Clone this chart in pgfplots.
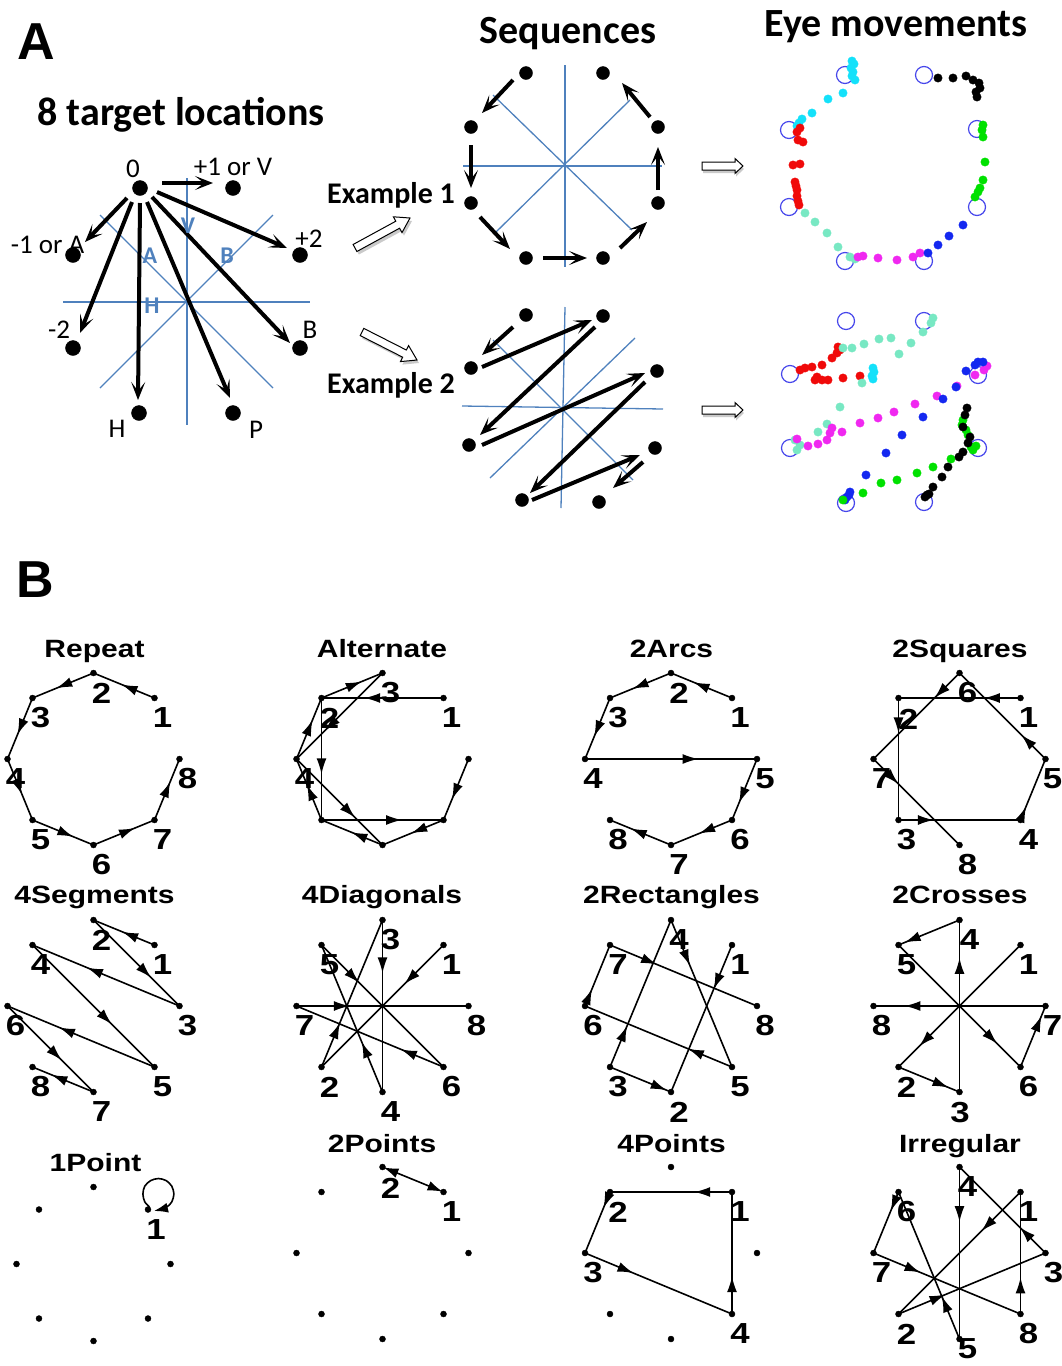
\documentclass[border=0pt]{standalone}
\usepackage{pgfplots}
\pgfplotsset{compat=1.18}
\usepackage{fontspec}
\setmainfont{Liberation Sans}
\newfontfamily\calfont{Carlito}
\newfontfamily\helb[FakeStretch=1.2]{Liberation Sans}
\usetikzlibrary{arrows.meta,decorations.markings}
\definecolor{lblue}{RGB}{79,129,189}
\definecolor{cblue}{RGB}{70,70,235}
\definecolor{ecyan}{RGB}{20,225,250}
\definecolor{ered}{RGB}{240,10,10}
\definecolor{eaqua}{RGB}{120,232,195}
\definecolor{emag}{RGB}{240,40,240}
\definecolor{eblue}{RGB}{20,40,240}
\definecolor{egreen}{RGB}{0,225,0}
\tikzset{seg/.style={postaction={decorate,decoration={markings,mark=at position #1 with {\arrow{Latex[length=16pt,width=10pt]}}}}}}
\pgfplotsset{
 edge/.style={black,line width=1.6pt,mark=none},
 tarrow/.style={black,line width=4pt,mark=none,-{Stealth[length=18pt,width=14pt,inset=9pt]}},
 bdot/.style={only marks,mark=*,mark size=3pt,black},
 bline/.style={lblue,line width=1.3pt,mark=none},
 edot/.style={only marks,color=#1,mark=*,mark size=4.2pt,mark options={draw=none,fill=#1}},
 hollow/.style={fill=white,draw=black,line width=1pt,mark=none},
 hshadow/.style={fill=black!35,draw=none,mark=none,opacity=0.6},
}
\newcommand\E[5]{\addplot[edge,seg=#5] coordinates {(#1,#2) (#3,#4)};}
\newcommand\digfont{\helb\bfseries\fontsize{29}{30}\selectfont}
\newcommand\lbl[3]{\node[font=\digfont,inner sep=0pt] at (axis cs:#1,#2) {#3};}
\newcommand\ttl[3]{\node[font=\helb\bfseries\fontsize{25}{30}\selectfont,anchor=base,inner sep=0pt] at (axis cs:#1,#2) {#3};}
\begin{document}
\begin{tikzpicture}
\useasboundingbox (0,0) rectangle (1062pt,1366pt);
\begin{axis}[at={(0,0)},anchor=south west,scale only axis,width=1062pt,height=1366pt,
 xmin=0,xmax=1062,ymin=0,ymax=1366,y dir=reverse,hide axis,clip=false]
% ---------------- Panel A left ----------------
\addplot[bline] coordinates {(187,178) (187,425)};
\addplot[bline] coordinates {(63,302) (310,302)};
\addplot[bline] coordinates {(100,215) (273,388)};
\addplot[bline] coordinates {(273,215) (100,388)};
\addplot[only marks,mark=*,mark size=7.5pt,black] coordinates {(140,188) (233,188) (300,255) (300,348) (233,413) (139,413) (73,348) (73,255)};
\addplot[tarrow] coordinates {(162,183) (213,183)};
\addplot[tarrow] coordinates {(127,198) (85,242)};
\addplot[tarrow] coordinates {(132,202) (80,333)};
\addplot[tarrow] coordinates {(140,203) (138,400)};
\addplot[tarrow] coordinates {(147,202) (230,398)};
\addplot[tarrow] coordinates {(152,197) (290,343)};
\addplot[tarrow] coordinates {(157,192) (287,248)};
\node[anchor=base,font=\bfseries\fontsize{52}{60}\selectfont,inner sep=0pt] at (axis cs:36,59) {A};
\node[anchor=base,font=\calfont\bfseries\fontsize{40}{48}\selectfont,inner sep=0pt] at (axis cs:181,125) {8 target locations};
\begin{scope}[every node/.style={anchor=base,font=\calfont\fontsize{27}{30}\selectfont,inner sep=0pt}]
\node at (axis cs:133,177) {0};
\node at (axis cs:233,175) {+1 or V};
\node at (axis cs:47.5,253) {-1 or A};
\node at (axis cs:309,247) {+2};
\node at (axis cs:59,338) {-2};
\node at (axis cs:310,338) {B};
\node at (axis cs:117,437) {H};
\node at (axis cs:256,438) {P};
\end{scope}
\begin{scope}[every node/.style={anchor=base,font=\calfont\bfseries\fontsize{24}{28}\selectfont,text=lblue,inner sep=0pt}]
\node at (axis cs:188,233) {V};
\node at (axis cs:150,263) {A};
\node at (axis cs:227,263) {B};
\node at (axis cs:152,313) {H};
\end{scope}
% ---------------- Panel A middle ----------------
\node[anchor=base,font=\calfont\bfseries\fontsize{40}{48}\selectfont,inner sep=0pt] at (axis cs:568,43) {Sequences};
\node[anchor=base,font=\calfont\bfseries\fontsize{30}{36}\selectfont,inner sep=0pt] at (axis cs:391,203) {Example 1};
\node[anchor=base,font=\calfont\bfseries\fontsize{30}{36}\selectfont,inner sep=0pt] at (axis cs:391,393) {Example 2};
\addplot[hshadow] coordinates {(355.1,247.5) (397.8,224.2) (395.4,219.8) (412,221) (404,235.6) (401.6,231.2) (358.9,254.5)} -- cycle;
\addplot[hollow] coordinates {(353.1,244.5) (395.8,221.2) (393.4,216.8) (410,218) (402,232.6) (399.6,228.2) (356.9,251.5)} -- cycle;
\addplot[hshadow] coordinates {(365.8,331.4) (408.3,353.0) (410.6,348.6) (419,363) (402.4,364.6) (404.7,360.2) (362.2,338.6)} -- cycle;
\addplot[hollow] coordinates {(363.8,328.4) (406.3,350.0) (408.6,345.6) (417,360) (400.4,361.6) (402.7,357.2) (360.2,335.6)} -- cycle;
% example 1
\addplot[bline] coordinates {(565,65) (565,267)};
\addplot[bline] coordinates {(463,166) (662,166)};
\addplot[bline] coordinates {(493,95) (632,230)};
\addplot[bline] coordinates {(630,100) (495,233)};
\addplot[only marks,mark=*,mark size=6.5pt,black] coordinates {(526,73) (603,73) (658,127) (658,203) (603,258) (526,258) (471,203) (471,127)};
\addplot[tarrow] coordinates {(513,80) (482,113)};
\addplot[tarrow] coordinates {(471,145) (471,188)};
\addplot[tarrow] coordinates {(480,217) (510,249)};
\addplot[tarrow] coordinates {(543,258) (587,258)};
\addplot[tarrow] coordinates {(620,248) (647,222)};
\addplot[tarrow] coordinates {(658,190) (658,147)};
\addplot[tarrow] coordinates {(650,117) (622,83)};
% example 2
\addplot[bline] coordinates {(565,307) (561,508)};
\addplot[bline] coordinates {(462,406) (663,409)};
\addplot[bline] coordinates {(493,340) (633,480)};
\addplot[bline] coordinates {(635,338) (490,478)};
\addplot[only marks,mark=*,mark size=6.5pt,black] coordinates {(526,315) (603,316) (657,371) (655,448) (599,502) (522,500) (469,445) (471,368)};
\addplot[tarrow] coordinates {(513,327) (482,355)};
\addplot[tarrow] coordinates {(482,367) (592,320)};
\addplot[tarrow] coordinates {(595,327) (480,435)};
\addplot[tarrow] coordinates {(482,445) (645,373)};
\addplot[tarrow] coordinates {(645,382) (530,493)};
\addplot[tarrow] coordinates {(532,500) (640,455)};
\addplot[tarrow] coordinates {(643,462) (613,488)};
% ---------------- Panel A right ----------------
\node[anchor=base,font=\calfont\bfseries\fontsize{40}{48}\selectfont,inner sep=0pt] at (axis cs:896,36) {Eye movements};
\addplot[hshadow] coordinates {(703,165) (736,165) (736,161.5) (744,169) (736,176.5) (736,173) (703,173)} -- cycle;
\addplot[hollow] coordinates {(702,162) (735,162) (735,158.5) (743,166) (735,173.5) (735,170) (702,170)} -- cycle;
\addplot[hshadow] coordinates {(703,409) (736,409) (736,405.5) (744,413) (736,420.5) (736,417) (703,417)} -- cycle;
\addplot[hollow] coordinates {(702,406) (735,406) (735,402.5) (743,410) (735,417.5) (735,414) (702,414)} -- cycle;
\addplot[only marks,mark=o,mark size=8.5pt,cblue,line width=1.2pt] coordinates {(845,75) (924,75) (977,129) (977,207) (924,261) (845,261) (789,207) (789,130)
 (846,321) (924,321) (978,375) (978,448) (924,502) (846,503) (790,448) (790,374)};
\addplot[edot=ecyan] coordinates {(852,61) (854,64) (851,68) (853,72) (852,76) (855,80) (843,93) (828,99) (812,113) (802,119) (799,123) (797,126)
 (873,368) (874,372) (872,376) (873,379)};
\addplot[edot=ered] coordinates {(797,132) (800,128) (798,140) (803,142) (793,165) (800,164) (795,182) (796,186) (797,190) (797,196) (798,201) (799,205)
 (800,370) (805,368) (812,367) (822,365) (832,358) (837,353) (840,350) (838,347) (817,377) (815,380) (822,380) (828,380) (843,378) (860,376)};
\addplot[edot=eaqua] coordinates {(805,213) (815,222) (827,233) (838,247) (850,257) (855,259)
 (843,348) (852,348) (864,344) (879,339) (891,338) (899,354) (911,343) (923,332) (931,323) (933,318) (862,383) (840,407) (827,424) (818,432) (800,445) (797,450) (795,440)};
\addplot[edot=emag] coordinates {(858,257) (863,256) (878,258) (897,260) (913,257) (920,253)
 (797,439) (808,446) (818,444) (827,440) (830,433) (832,428) (842,432) (860,423) (878,418) (894,412) (915,404) (937,396) (957,386) (975,375) (984,370) (987,366)};
\addplot[edot=eblue] coordinates {(928,253) (938,245) (949,236) (963,225)
 (978,362) (983,362) (975,365) (966,371) (956,387) (943,399) (923,417) (902,435) (886,453) (866,475) (850,492) (847,497) (845,500) (849,495)};
\addplot[edot=egreen] coordinates {(975,197) (978,192) (980,188) (983,180) (985,162) (983,137) (983,125) (982,130)
 (843,500) (863,493) (881,483) (897,480) (917,473) (933,467) (951,459) (962,425) (963,420) (966,430) (968,435) (971,447) (973,450) (976,446)};
\addplot[edot=black] coordinates {(938,78) (953,78) (966,76) (973,80) (979,83) (980,88) (977,97) (976,92)
 (967,408) (965,415) (963,427) (970,437) (968,443) (963,452) (959,457) (948,467) (942,477) (933,487) (927,495) (925,497) (929,494)};
% ---------------- Panel B ----------------
\node[anchor=base,font=\bfseries\fontsize{52}{60}\selectfont,inner sep=0pt] at (axis cs:35.5,597) {B};
\ttl{94.5}{657}{Repeat}
\ttl{382}{657}{Alternate}
\ttl{671.5}{657}{2Arcs}
\ttl{960}{657}{2Squares}
\ttl{94.5}{903}{4Segments}
\ttl{382}{903}{4Diagonals}
\ttl{671.5}{903}{2Rectangles}
\ttl{960}{903}{2Crosses}
\ttl{95.5}{1171}{1Point}
\ttl{382}{1152}{2Points}
\ttl{671.5}{1152}{4Points}
\ttl{960}{1152}{Irregular}
% dots
\addplot[bdot] coordinates {(93.5,673) (154.5,698) (179.5,759) (154.5,820) (93.5,845) (32.5,820) (7.5,759) (32.5,698)};
\addplot[bdot] coordinates {(382.5,673) (443.5,698) (468.5,759) (443.5,820) (382.5,845) (321.5,820) (296.5,759) (321.5,698)};
\addplot[bdot] coordinates {(671,673) (732,698) (757,759) (732,820) (671,845) (610,820) (585,759) (610,698)};
\addplot[bdot] coordinates {(959.5,673) (1020.5,698) (1045.5,759) (1020.5,820) (959.5,845) (898.5,820) (873.5,759) (898.5,698)};
\addplot[bdot] coordinates {(93.5,920) (154.5,945) (179.5,1006) (154.5,1067) (93.5,1092) (32.5,1067) (7.5,1006) (32.5,945)};
\addplot[bdot] coordinates {(382.5,920) (443.5,945) (468.5,1006) (443.5,1067) (382.5,1092) (321.5,1067) (296.5,1006) (321.5,945)};
\addplot[bdot] coordinates {(671,920) (732,945) (757,1006) (732,1067) (671,1092) (610,1067) (585,1006) (610,945)};
\addplot[bdot] coordinates {(959.5,920) (1020.5,945) (1045.5,1006) (1020.5,1067) (959.5,1092) (898.5,1067) (873.5,1006) (898.5,945)};
\addplot[bdot] coordinates {(93.5,1187) (148,1209.5) (170.5,1264) (148,1318.5) (93.5,1341) (39,1318.5) (16.5,1264) (39,1209.5)};
\addplot[bdot] coordinates {(382.5,1167) (443.5,1192) (468.5,1253) (443.5,1314) (382.5,1339) (321.5,1314) (296.5,1253) (321.5,1192)};
\addplot[bdot] coordinates {(671,1167) (732,1192) (757,1253) (732,1314) (671,1339) (610,1314) (585,1253) (610,1192)};
\addplot[bdot] coordinates {(959.5,1167) (1020.5,1192) (1045.5,1253) (1020.5,1314) (959.5,1339) (898.5,1314) (873.5,1253) (898.5,1192)};
% Repeat
\E{154.5}{698}{93.5}{673}{0.54}
\E{93.5}{673}{32.5}{698}{0.61}
\E{32.5}{698}{7.5}{759}{0.6}
\E{7.5}{759}{32.5}{820}{0.58}
\E{32.5}{820}{93.5}{845}{0.67}
\E{93.5}{845}{154.5}{820}{0.68}
\E{154.5}{820}{179.5}{759}{0.63}
\lbl{162.5}{718}{1}\lbl{101.5}{693}{2}\lbl{40.5}{718}{3}\lbl{15.5}{779}{4}
\lbl{40.5}{840}{5}\lbl{101.5}{865}{6}\lbl{162.5}{840}{7}\lbl{187.5}{779}{8}
% Alternate
\E{443.5}{698}{321.5}{698}{0.65}
\E{321.5}{698}{382.5}{673}{0.66}
\E{382.5}{673}{296.5}{759}{0.67}
\E{296.5}{759}{321.5}{698}{0.64}
\E{321.5}{698}{321.5}{820}{0.625}
\E{321.5}{820}{443.5}{820}{0.66}
\E{468.5}{759}{443.5}{820}{0.66}
\E{443.5}{820}{382.5}{845}{0.53}
\E{382.5}{845}{321.5}{820}{0.51}
\E{321.5}{820}{296.5}{759}{0.58}
\E{296.5}{759}{382.5}{845}{0.68}
\lbl{451.5}{718}{1}\lbl{329.5}{718}{2}\lbl{390.5}{693}{3}\lbl{304.5}{779}{4}
% 2Arcs
\E{732}{698}{671}{673}{0.63}
\E{671}{673}{610}{698}{0.63}
\E{610}{698}{585}{759}{0.63}
\E{585}{759}{757}{759}{0.66}
\E{757}{759}{732}{820}{0.72}
\E{732}{820}{671}{845}{0.54}
\E{671}{845}{610}{820}{0.66}
\lbl{740}{718}{1}\lbl{679}{693}{2}\lbl{618}{718}{3}\lbl{593}{779}{4}
\lbl{765}{779}{5}\lbl{740}{840}{6}\lbl{679}{865}{7}\lbl{618}{840}{8}
% 2Squares
\E{1020.5}{698}{898.5}{698}{0.30}
\E{898.5}{698}{898.5}{820}{0.29}
\E{898.5}{820}{1020.5}{820}{0.29}
\E{1020.5}{820}{1045.5}{759}{0.22}
\E{1045.5}{759}{959.5}{673}{0.28}
\E{959.5}{673}{873.5}{759}{0.29}
\E{873.5}{759}{959.5}{845}{0.29}
\lbl{1028.5}{718}{1}\lbl{908.5}{719}{2}\lbl{906.5}{840}{3}\lbl{1028.5}{840}{4}
\lbl{1052.5}{779}{5}\lbl{967.5}{693}{6}\lbl{881.5}{779}{7}\lbl{967.5}{865}{8}
% 4Segments
\E{154.5}{945}{93.5}{920}{0.53}
\E{93.5}{920}{179.5}{1006}{0.67}
\E{179.5}{1006}{32.5}{945}{0.63}
\E{32.5}{945}{154.5}{1067}{0.65}
\E{154.5}{1067}{7.5}{1006}{0.65}
\E{7.5}{1006}{93.5}{1092}{0.63}
\E{93.5}{1092}{32.5}{1067}{0.69}
\lbl{162.5}{965}{1}\lbl{101.5}{940}{2}\lbl{187.5}{1026}{3}\lbl{40.5}{965}{4}
\lbl{162.5}{1087}{5}\lbl{15.5}{1026}{6}\lbl{101.5}{1112}{7}\lbl{40.5}{1087}{8}
% 4Diagonals
\E{443.5}{945}{321.5}{1067}{0.32}
\E{321.5}{1067}{382.5}{920}{0.30}
\E{382.5}{920}{382.5}{1092}{0.31}
\E{382.5}{1092}{321.5}{945}{0.34}
\E{321.5}{945}{443.5}{1067}{0.31}
\E{443.5}{1067}{296.5}{1006}{0.29}
\E{296.5}{1006}{468.5}{1006}{0.31}
\lbl{451.5}{965}{1}\lbl{329.5}{1087}{2}\lbl{390.5}{940}{3}\lbl{390.5}{1112}{4}
\lbl{329.5}{965}{5}\lbl{451.5}{1087}{6}\lbl{304.5}{1026}{7}\lbl{476.5}{1026}{8}
% 2Rectangles
\E{732}{945}{671}{1092}{0.30}
\E{610}{1067}{671}{1092}{0.93}
\E{610}{1067}{671}{920}{0.28}
\E{671}{920}{732}{1067}{0.31}
\E{732}{1067}{585}{1006}{0.30}
\E{585}{1006}{610}{945}{0.28}
\E{610}{945}{757}{1006}{0.32}
\lbl{740}{965}{1}\lbl{679}{1112}{2}\lbl{618}{1087}{3}\lbl{679}{940}{4}
\lbl{740}{1087}{5}\lbl{593}{1026}{6}\lbl{618}{965}{7}\lbl{765}{1026}{8}
% 2Crosses
\E{1020.5}{945}{898.5}{1067}{0.83}
\E{898.5}{1067}{959.5}{1092}{0.82}
\E{959.5}{1092}{959.5}{920}{0.78}
\E{959.5}{920}{898.5}{945}{0.9}
\E{898.5}{945}{1020.5}{1067}{0.81}
\E{1020.5}{1067}{1045.5}{1006}{0.84}
\E{1045.5}{1006}{873.5}{1006}{0.82}
\lbl{1028.5}{965}{1}\lbl{906.5}{1087}{2}\lbl{960}{1113}{3}\lbl{969.5}{940}{4}
\lbl{906.5}{965}{5}\lbl{1028.5}{1087}{6}\lbl{1052.5}{1026}{7}\lbl{881.5}{1026}{8}
% 1Point
\addplot[edge,smooth,-{Latex[length=14pt,width=10pt]}] coordinates {(149.5,1207) (144.7,1201.7) (142.9,1194) (144.7,1186.2) (150.6,1180.6) (158.4,1178.5) (166.2,1180.6) (171.8,1186.2) (173.9,1194) (171.8,1201.8) (166.2,1207.4) (154,1211)};
\lbl{156}{1230}{1}
% 2Points
\addplot[edge,{Latex[length=15pt,width=10pt]}-{Latex[length=15pt,width=10pt]},shorten >=1pt,shorten <=1pt] coordinates {(382.5,1167) (443.5,1192)};
\lbl{390.5}{1188}{2}\lbl{451.5}{1212}{1}
% 4Points
\E{732}{1192}{610}{1192}{0.31}
\E{610}{1192}{585}{1253}{0.26}
\E{585}{1253}{732}{1314}{0.33}
\E{732}{1314}{732}{1192}{0.31}
\lbl{740}{1212}{1}\lbl{618}{1212}{2}\lbl{593}{1273}{3}\lbl{740}{1334}{4}
% Irregular
\E{1020.5}{1192}{898.5}{1314}{0.32}
\E{898.5}{1314}{1045.5}{1253}{0.32}
\E{1045.5}{1253}{959.5}{1167}{0.30}
\E{959.5}{1167}{959.5}{1339}{0.32}
\E{959.5}{1339}{898.5}{1192}{0.29}
\E{898.5}{1192}{873.5}{1253}{0.31}
\E{873.5}{1253}{1020.5}{1314}{0.32}
\E{1020.5}{1314}{1020.5}{1192}{0.30}
\lbl{1028.5}{1212}{1}\lbl{906.5}{1334}{2}\lbl{1053.5}{1273}{3}\lbl{967.5}{1187}{4}
\lbl{967.5}{1349}{5}\lbl{906.5}{1212}{6}\lbl{881.5}{1273}{7}\lbl{1028.5}{1334}{8}
\end{axis}
\end{tikzpicture}
\end{document}
